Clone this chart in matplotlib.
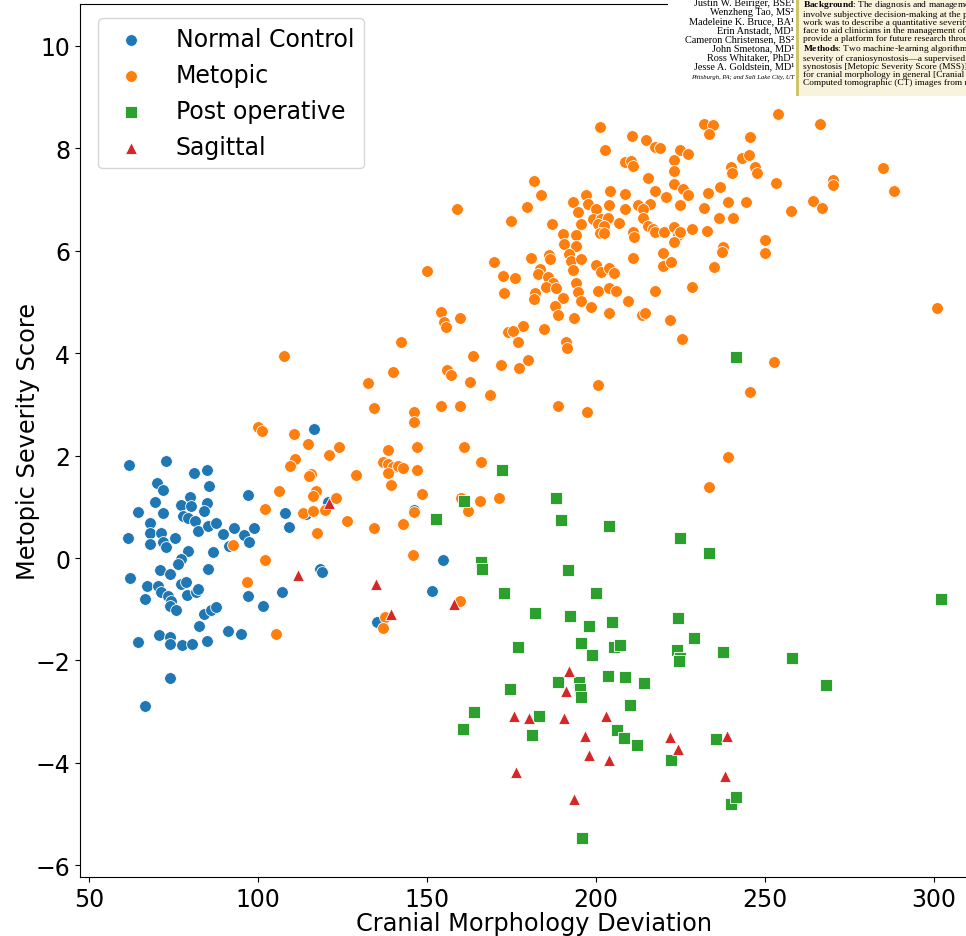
import matplotlib
matplotlib.use("Agg")
import matplotlib.pyplot as plt
from matplotlib.patches import Rectangle

plt.rcParams["mathtext.fontset"] = "custom"
plt.rcParams["mathtext.rm"] = "Liberation Serif"
plt.rcParams["mathtext.bf"] = "Liberation Serif:bold"

# ---- data -------------------------------------------------------------
normal_x = [61.9, 72.6, 80.9, 84.8, 85.4, 70.0, 72.0, 69.4, 64.4, 71.8, 79.8, 77.2, 80.2, 84.9,
            84.1, 97.1, 77.7, 79.2, 81.2, 82.2, 85.1, 87.6, 68.0, 68.0, 71.3, 71.8, 72.8, 68.1,
            75.5, 61.4, 89.7, 93.0, 95.7, 97.4, 98.9, 91.5, 79.2, 86.6, 77.2, 76.2, 71.0, 73.9,
            85.1, 62.2, 67.1, 70.3, 71.3, 73.3, 74.3, 77.2, 78.7, 79.0, 81.7, 82.2, 66.6, 73.8,
            75.7, 83.9, 86.1, 87.6, 82.6, 91.0, 94.9, 70.6, 73.9, 73.9, 77.5, 80.5, 84.9, 64.6,
            73.8, 66.6, 116.4, 108.0, 109.0, 114.2, 118.3, 118.8, 96.9, 101.5, 107.1, 120.6,
            146.0, 154.6, 151.3, 135.1]
normal_y = [1.82, 1.89, 1.66, 1.72, 1.40, 1.46, 1.33, 1.09, 0.90, 0.87, 1.20, 1.03, 1.02, 1.07,
            0.92, 1.23, 0.83, 0.79, 0.73, 0.53, 0.63, 0.68, 0.68, 0.49, 0.49, 0.31, 0.21, 0.28,
            0.40, 0.40, 0.47, 0.58, 0.44, 0.31, 0.58, 0.24, 0.14, 0.12, -0.02, -0.12, -0.23, -0.31,
            -0.21, -0.39, -0.54, -0.54, -0.67, -0.74, -0.83, -0.51, -0.47, -0.72, -0.66, -0.61,
            -0.80, -0.93, -1.01, -1.09, -1.01, -0.95, -1.32, -1.43, -1.48, -1.50, -1.55, -1.67,
            -1.69, -1.68, -1.63, -1.65, -2.34, -2.90, 2.52, 0.88, 0.61, 0.86, -0.21, -0.28, -0.74,
            -0.94, -0.67, 1.09, 0.94, -0.04, -0.65, -1.24]

metopic_x = [
    99.9, 101.2, 110.7, 114.9, 121.1, 124.0, 111.0, 109.3, 115.7, 115.0, 106.1, 117.2, 116.2,
    123.1, 101.9, 113.2, 116.3, 119.9, 117.3, 92.5, 101.9, 96.6, 105.3, 107.6,
    142.2, 140.0, 132.6, 134.2, 146.0, 146.1, 154.1, 159.8, 163.5, 155.8, 157.1, 162.8, 129.0,
    138.3, 136.9, 138.3, 139.8, 141.3, 143.0, 138.3, 139.3, 146.9, 146.9, 148.6, 161.0, 166.0,
    126.3, 134.2, 142.8, 146.2, 160.1, 162.2, 165.5, 145.7, 137.6, 136.9, 159.8, 171.4,
    158.8, 149.9, 154.1, 159.8, 154.9, 155.6, 168.5, 188.7, 197.2, 200.7,
    201.0, 210.7, 214.8, 217.3, 218.8, 202.7, 208.4, 210.4, 210.9, 224.9, 227.1, 222.9, 232.0,
    234.7, 233.3, 222.9, 215.3, 181.5, 183.7, 179.6, 174.7, 222.9, 225.6, 227.3, 217.3, 220.6,
    233.0, 236.7, 224.9, 238.9, 232.0, 236.3, 240.4, 228.4, 232.8, 204.2, 208.4, 203.7, 197.0,
    193.1, 194.6, 197.5, 200.0, 199.0, 201.5, 203.4, 200.5, 202.4, 201.0, 202.4, 195.6, 206.7,
    186.9, 190.1, 193.9, 190.6, 193.9, 192.1, 192.6, 195.6, 193.1, 186.0, 186.4, 180.8, 183.3,
    182.9, 169.9, 172.4, 176.1, 172.7, 185.7, 187.2, 185.2, 188.1, 194.1, 181.8, 181.5, 190.3,
    187.7, 188.7, 194.6, 195.6, 198.5, 200.0, 201.3, 203.7, 205.2, 200.5, 203.9, 205.9, 203.7,
    209.4, 193.6, 211.0, 217.3, 213.6, 214.6, 221.9, 225.3, 228.4, 234.8, 237.6, 237.3, 219.9,
    219.7, 222.2, 210.8, 211.3, 208.4, 212.3, 215.8, 213.8, 213.8, 215.3, 216.7, 217.3, 220.2,
    223.1, 224.1, 224.9, 223.1, 178.3, 173.8, 175.3, 176.8, 184.7, 191.1, 191.4, 179.8, 171.9,
    177.3, 240.0, 240.2,
    253.9, 266.3, 245.4, 243.1, 245.1, 247.1, 247.6, 253.1, 284.8, 288.1, 270.0, 270.2, 264.3,
    266.7, 257.8, 244.4, 250.1, 250.1, 300.9, 252.6, 245.6, 238.9, 233.5]
metopic_y = [
    2.55, 2.49, 2.42, 2.23, 2.01, 2.16, 1.93, 1.80, 1.64, 1.60, 1.30, 1.31, 1.22,
    1.17, 0.96, 0.87, 0.92, 0.94, 0.49, 0.26, -0.03, -0.46, -1.48, 3.95,
    4.21, 3.64, 3.42, 2.93, 2.85, 2.65, 2.96, 2.96, 3.94, 3.68, 3.57, 3.44, 1.63,
    2.11, 1.87, 1.84, 1.78, 1.79, 1.75, 1.67, 1.43, 2.16, 1.72, 1.25, 2.17, 1.87,
    0.72, 0.59, 0.66, 0.89, 1.17, 0.91, 1.12, 0.06, -1.16, -1.37, -0.83, 1.18,
    6.82, 5.61, 4.81, 4.68, 4.60, 4.52, 3.19, 2.97, 2.85, 3.38,
    8.41, 8.24, 8.16, 8.02, 8.00, 7.96, 7.73, 7.76, 7.66, 7.97, 7.89, 7.78, 8.48,
    8.46, 8.29, 7.56, 7.42, 7.36, 7.09, 6.85, 6.59, 7.30, 7.21, 7.09, 7.17, 7.06,
    7.13, 7.24, 6.90, 6.95, 6.84, 6.65, 6.64, 6.43, 6.39, 7.17, 7.11, 6.90, 7.08,
    6.95, 6.75, 6.91, 6.82, 6.62, 6.62, 6.65, 6.52, 6.49, 6.35, 6.35, 6.52, 6.54,
    6.53, 6.33, 6.30, 6.13, 6.10, 5.94, 5.81, 5.83, 5.62, 5.92, 5.83, 5.86, 5.64,
    5.55, 5.79, 5.51, 5.47, 5.17, 5.48, 5.38, 5.30, 5.27, 5.38, 5.17, 5.06, 5.07,
    4.93, 4.75, 5.19, 5.01, 4.91, 5.72, 5.58, 5.67, 5.56, 5.22, 5.27, 5.22, 4.79,
    5.01, 4.68, 5.85, 5.22, 4.75, 4.78, 4.65, 4.28, 5.29, 5.68, 6.07, 5.97, 5.96,
    5.71, 5.78, 6.36, 6.27, 6.82, 6.89, 6.91, 6.82, 6.65, 6.49, 6.43, 6.36, 6.36,
    6.46, 6.30, 6.36, 6.17, 4.54, 4.41, 4.44, 4.21, 4.47, 4.21, 4.11, 3.87, 3.77,
    3.72, 7.63, 7.51,
    8.68, 8.48, 8.22, 7.82, 7.88, 7.64, 7.52, 7.32, 7.62, 7.16, 7.39, 7.29, 6.98,
    6.84, 6.77, 6.95, 6.21, 5.95, 4.88, 3.83, 3.25, 1.98, 1.39]

postop_x = [172.2, 161.0, 188.0, 189.6, 203.7, 224.9, 233.3, 166.0, 166.2, 191.6, 172.6, 200.0,
            182.0, 192.4, 197.8, 204.7, 224.1, 228.9, 237.4, 177.0, 195.6, 198.8, 205.2, 207.0,
            223.8, 224.9, 224.4, 188.8, 194.9, 195.1, 195.6, 203.4, 208.4, 214.2, 174.6, 210.1,
            160.5, 164.0, 183.0, 181.0, 206.1, 208.2, 212.1, 222.1, 235.6, 195.9, 240.0, 241.5,
            301.9, 257.9, 268.1, 241.5, 152.7]
postop_y = [1.72, 1.11, 1.17, 0.74, 0.63, 0.40, 0.10, -0.07, -0.21, -0.23, -0.69, -0.69,
            -1.07, -1.13, -1.32, -1.24, -1.18, -1.57, -1.83, -1.74, -1.66, -1.89, -1.74, -1.69,
            -1.79, -1.96, -2.02, -2.42, -2.43, -2.56, -2.71, -2.31, -2.32, -2.45, -2.55, -2.87,
            -3.34, -3.01, -3.08, -3.46, -3.35, -3.52, -3.65, -3.95, -3.54, -5.47, -4.80, -4.67,
            -0.80, -1.95, -2.48, 3.92, 0.76]

sagittal_x = [111.8, 121.0, 134.9, 139.3, 157.9, 191.9, 191.1, 175.6, 180.0, 190.4, 203.0,
              196.7, 198.0, 203.7, 176.3, 193.5, 221.9, 224.3, 238.8, 238.1]
sagittal_y = [-0.33, 1.07, -0.51, -1.09, -0.90, -2.20, -2.59, -3.08, -3.13, -3.13, -3.08,
              -3.48, -3.84, -3.94, -4.17, -4.71, -3.49, -3.73, -3.47, -4.25]

groups = [
    ("Normal Control", normal_x, normal_y, "o", "#1f77b4"),
    ("Metopic", metopic_x, metopic_y, "o", "#ff7f0e"),
    ("Post operative", postop_x, postop_y, "s", "#2ca02c"),
    ("Sagittal", sagittal_x, sagittal_y, "^", "#d62728"),
]

# ---- figure -----------------------------------------------------------
W, H = 966, 937
fig = plt.figure(figsize=(W / 100, H / 100), dpi=100)

x_lo, x_hi = 47.3, 312.0
y_lo, y_hi = -6.23, 10.82
left_px, bottom_px, top_px = 80, 878, 5
px_per_unit = 3.38
right_px = left_px + (x_hi - x_lo) * px_per_unit
ax = fig.add_axes([left_px / W, (H - bottom_px) / H,
                   (right_px - left_px) / W, (bottom_px - top_px) / H])
ax.patch.set_visible(False)

for label, xs, ys, marker, color in groups:
    ax.scatter(xs, ys, s=72, marker=marker, color=color, edgecolors="white",
               linewidths=0.6, label=label)

ax.set_xlim(x_lo, x_hi)
ax.set_ylim(y_lo, y_hi)
ax.spines["right"].set_visible(False)
ax.set_xticks([50, 100, 150, 200, 250, 300])
ax.set_yticks([-6, -4, -2, 0, 2, 4, 6, 8, 10])
ax.tick_params(labelsize=17)
ax.set_xlabel("Cranial Morphology Deviation", fontsize=17.3, labelpad=0.5, x=0.507)
ax.set_ylabel("Metopic Severity Score", fontsize=17.3, labelpad=-3)
leg_x = (98 - left_px) / (right_px - left_px)
leg_y = 1 - (19 - top_px) / (bottom_px - top_px)
ax.legend(loc="upper left", bbox_to_anchor=(leg_x, leg_y), borderaxespad=0,
          fontsize=17, handletextpad=0.9)

# ---- article header panel in the upper right corner ---------------------
def fx(px):
    return px / W

def fy(py):
    return 1 - py / H

panel_bottom = 97
fig.add_artist(Rectangle((fx(668), fy(panel_bottom)), fx(966 - 668), panel_bottom / H,
                         transform=fig.transFigure, facecolor="white", edgecolor="none", zorder=10))
fig.add_artist(Rectangle((fx(799), fy(panel_bottom)), fx(966 - 799), panel_bottom / H,
                         transform=fig.transFigure, facecolor="#f7f3dc", edgecolor="none", zorder=11))
fig.add_artist(Rectangle((fx(796), fy(panel_bottom)), fx(3), panel_bottom / H,
                         transform=fig.transFigure, facecolor="#cfc46a", edgecolor="none", zorder=12))

authors = [
    "Justin W. Beiriger, BSE\u00b9",
    "Wenzheng Tao, MS\u00b2",
    "Madeleine K. Bruce, BA\u00b9",
    "Erin Anstadt, MD\u00b9",
    "Cameron Christensen, BS\u00b2",
    "John Smetona, MD\u00b9",
    "Ross Whitaker, PhD\u00b2",
    "Jesse A. Goldstein, MD\u00b9",
]
abstract = [
    r"$\mathbf{Background}$: The diagnosis and manageme",
    "involve subjective decision-making at the po",
    "work was to describe a quantitative severity m",
    "face to aid clinicians in the management of",
    "provide a platform for future research throug",
    r"$\mathbf{Methods}$: Two machine-learning algorithms v",
    "severity of craniosynostosis\u2014a supervised m",
    "synostosis [Metopic Severity Score (MSS)] a",
    "for cranial morphology in general [Cranial",
    "Computed tomographic (CT) images from m",
]
serif = ["Liberation Serif", "DejaVu Serif"]
fig.text(fx(794), fy(-1), "\n".join(authors), ha="right", va="top", multialignment="right",
         fontsize=7.4, linespacing=1.0, family=serif, zorder=13)
fig.text(fx(794), fy(79), "Pittsburgh, PA; and Salt Lake City, UT", ha="right",
         va="baseline", fontsize=4.8, style="italic", family=serif, zorder=13)
fig.text(fx(803), fy(-1), "\n".join(abstract), ha="left", va="top", multialignment="left",
         fontsize=6.75, linespacing=1.0, family=serif, zorder=13)

fig.savefig("out.png", dpi=100)
